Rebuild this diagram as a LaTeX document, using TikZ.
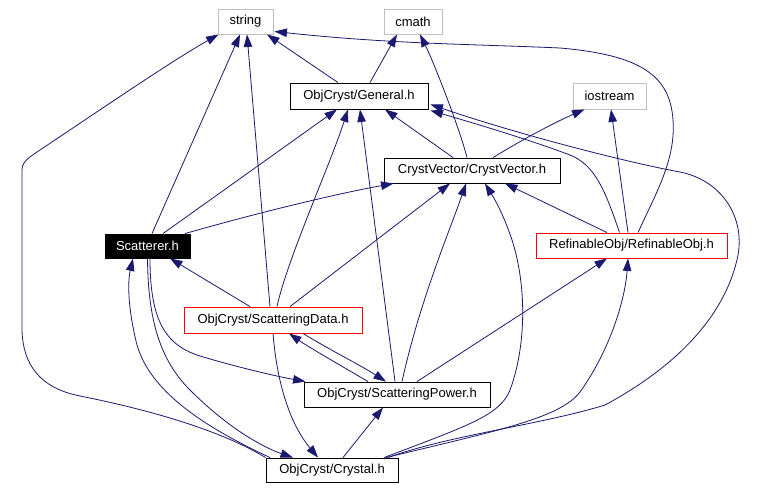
\documentclass[tikz,border=0pt]{standalone}
\usepackage{fontspec}
\setmainfont{Liberation Sans}
\usetikzlibrary{arrows.meta}
\definecolor{edgecol}{RGB}{25,25,112}
\definecolor{graycol}{RGB}{191,191,191}
\begin{document}
\begin{tikzpicture}[x=1pt,y=-1pt,
  box/.style={draw=black,line width=0.9pt,fill=white,inner sep=0pt,font=\fontsize{13}{15}\selectfont},
  sysbox/.style={box,draw=graycol},
  redbox/.style={box,draw=red},
  rootbox/.style={box,fill=black,text=white},
  edge/.style={draw=edgecol,line width=0.8pt,-{Triangle[length=12.5pt,width=8.5pt]}}]
\useasboundingbox[fill=white] (0,0) rectangle (783,489);

\node[sysbox,minimum width=55pt,minimum height=25pt] (string) at (245.5,21.5) {string};
\node[sysbox,minimum width=58pt,minimum height=25pt] (cmath) at (413,21.5) {cmath};
\node[box,minimum width=138pt,minimum height=26pt] (gen) at (359,96) {ObjCryst/General.h};
\node[sysbox,minimum width=73pt,minimum height=26pt] (iostream) at (609.5,96) {iostream};
\node[box,minimum width=176pt,minimum height=25pt] (cv) at (472,170.5) {CrystVector/CrystVector.h};
\node[rootbox,minimum width=85pt,minimum height=24pt] (sc) at (147.5,246) {Scatterer.h};
\node[redbox,minimum width=191pt,minimum height=25pt] (ro) at (631.5,245.5) {RefinableObj/RefinableObj.h};
\node[redbox,minimum width=178pt,minimum height=26pt] (sd) at (273,320) {ObjCryst/ScatteringData.h};
\node[box,minimum width=186pt,minimum height=25pt] (sp) at (397,394.5) {ObjCryst/ScatteringPower.h};
\node[box,minimum width=132pt,minimum height=24pt] (cr) at (332,470) {ObjCryst/Crystal.h};

% General.h
\draw[edge] ([xshift=-21pt]gen.north) -- ([xshift=21.5pt]string.south);
\draw[edge] ([xshift=11pt]gen.north) -- ([xshift=-16pt]cmath.south);
% CrystVector.h
\draw[edge] ([xshift=-19pt]cv.north) -- ([xshift=26pt]gen.south);
\draw[edge] ([xshift=-5pt]cv.north) .. controls (460,130) and (435,65) .. ([xshift=7pt]cmath.south);
\draw[edge] ([xshift=21pt]cv.north) .. controls (530,135) and (560,120) .. ([xshift=-25pt]iostream.south);
% RefinableObj.h
\draw[edge] ([xshift=-3.5pt]ro.north) -- ([xshift=1.5pt]iostream.south);
\draw[edge] ([xshift=-24.5pt]ro.north) -- ([xshift=33pt]cv.south);
\draw[edge] ([xshift=-12pt]ro.north) .. controls (605,190) and (595,165) .. (570,155) .. controls (530,140) and (480,125) .. ([xshift=2pt,yshift=-1pt]gen.south east);
\draw[edge] ([xshift=6.5pt]ro.north) .. controls (655,195) and (676,160) .. (673,120) .. controls (670,75) and (640,55) .. (560,48) .. controls (470,44) and (390,44) .. ([xshift=1pt,yshift=3pt]string.south east);
% Scatterer.h
\draw[edge] ([xshift=4.5pt]sc.north) -- ([xshift=-5.5pt]string.south);
\draw[edge] ([xshift=15.5pt]sc.north) -- ([xshift=-22pt]gen.south);
\draw[edge] ([xshift=37.5pt]sc.north) .. controls (250,215) and (330,195) .. ([xshift=10pt]cv.south west);
\draw[edge] ([xshift=2.5pt]sc.south) .. controls (150,320) and (165,345) .. (200,356) .. controls (240,368) and (280,377) .. ([xshift=2pt]sp.north west);
\draw[edge] (sc.south) .. controls (148,320) and (160,360) .. (190,390) .. controls (230,430) and (265,448) .. ([xshift=-39pt]cr.north);
% ScatteringData.h
\draw[edge] ([xshift=-23pt]sd.north) -- ([xshift=22.5pt]sc.south);
\draw[edge] ([xshift=-3pt]sd.north) -- ([xshift=1.5pt]string.south);
\draw[edge] ([xshift=4pt]sd.north) .. controls (287,260) and (330,165) .. ([xshift=-11pt]gen.south);
\draw[edge] ([xshift=17pt]sd.north) -- ([xshift=-22pt]cv.south);
\draw[edge] (sd.south) .. controls (278,395) and (295,430) .. ([xshift=-14pt]cr.north);
\draw[edge] ([xshift=30pt]sd.south) .. controls (330,350) and (360,365) .. ([xshift=-11pt]sp.north);
% ScatteringPower.h
\draw[edge] ([xshift=-29pt]sp.north) .. controls (340,365) and (310,348) .. ([xshift=16pt]sd.south);
\draw[edge] ([xshift=-2pt]sp.north) -- ([xshift=1pt]gen.south);
\draw[edge] ([xshift=5pt]sp.north) .. controls (420,300) and (450,230) .. ([xshift=-6pt]cv.south);
\draw[edge] ([xshift=20pt]sp.north) -- ([xshift=-24.5pt]ro.south);
% Crystal.h
\draw[edge] ([xshift=11pt]cr.north) -- ([xshift=-14pt]sp.south);
\draw[edge] ([xshift=-62pt]cr.north) .. controls (200,425) and (150,390) .. (137,345) .. controls (127,305) and (128,280) .. ([xshift=-14.5pt]sc.south);
\draw[edge] (cr.north west) .. controls (220,430) and (150,410) .. (80,396) .. controls (40,388) and (23,365) .. (22,330) -- (22,170) .. controls (22,162) and (28,158) .. (40,150) .. controls (100,110) and (170,62) .. ([xshift=1pt]string.south west);
\draw[edge] ([xshift=52pt]cr.north) .. controls (470,425) and (500,415) .. (510,390) .. controls (525,350) and (528,290) .. (512,240) .. controls (502,210) and (492,195) .. ([xshift=13pt]cv.south);
\draw[edge] ([xshift=54pt]cr.north) .. controls (500,430) and (560,418) .. (580,392) .. controls (610,350) and (625,300) .. ([xshift=-3.5pt]ro.south);
\draw[edge] ([xshift=56pt]cr.north) .. controls (450,435) and (540,425) .. (605,405) .. controls (670,370) and (725,320) .. (738,255) .. controls (745,215) and (720,180) .. (680,172) .. controls (630,163) and (520,135) .. ([xshift=2pt,yshift=5pt]gen.south east);
\end{tikzpicture}
\end{document}
